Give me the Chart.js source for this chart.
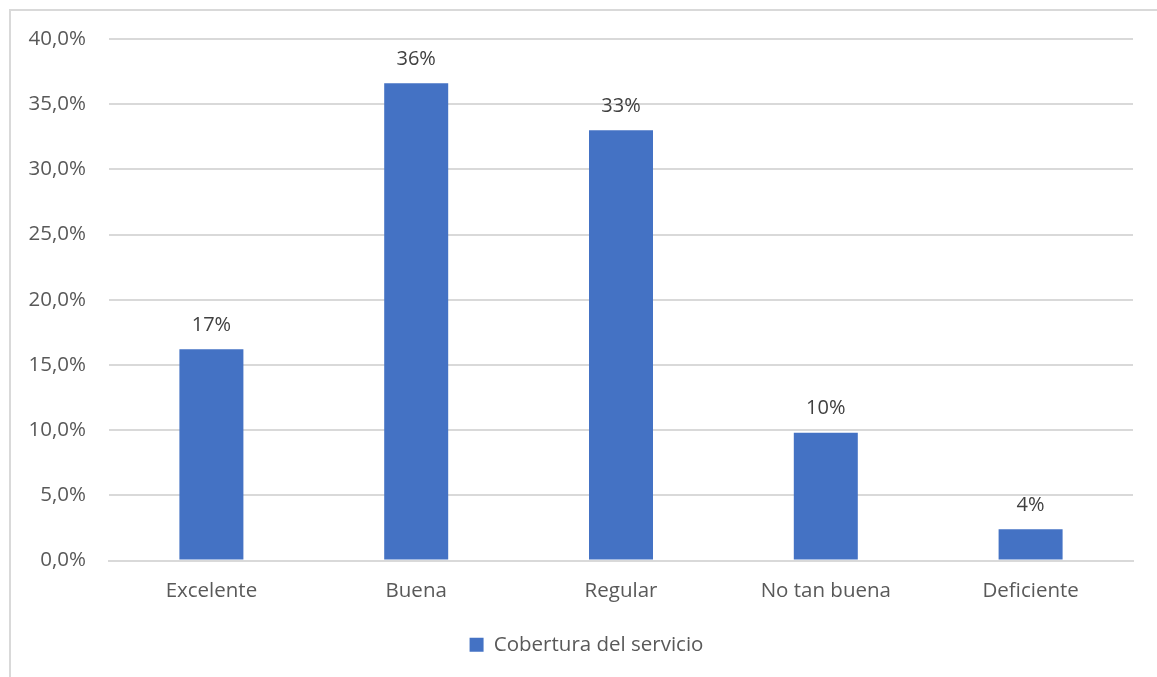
<!DOCTYPE html>
<html>
<head>
<meta charset="utf-8">
<script src="https://cdn.jsdelivr.net/npm/chart.js@4"></script>
<style>
    html, body { margin: 0; padding: 0; background: #fff; overflow: hidden; }
    #frame {
        position: absolute; left: 9px; top: 9px;
        width: 1200px; height: 720px;
        border: 2px solid #d9d9d9; box-sizing: border-box;
    }
    #wrap { position: absolute; left: 0; top: 0; width: 1157px; height: 677px; }
</style>
</head>
<body>
<div id="frame"></div>
<div id="wrap"><canvas id="chart"></canvas></div>
<script>
// categories and values
var categories = ["Excelente", "Buena", "Regular", "No tan buena", "Deficiente"];
var coverage = [16.2, 36.6, 33.0, 9.8, 2.4];
var valueLabels = ["17%", "36%", "33%", "10%", "4%"];
var seriesName = "Cobertura del servicio";

var FONT = "'Open Sans', sans-serif";
var TEXT = "#595959";

// draws the data labels above each bar
var barLabels = {
    id: "barLabels",
    afterDatasetsDraw: function (chart) {
        var ctx = chart.ctx;
        var meta = chart.getDatasetMeta(0);
        ctx.save();
        ctx.font = "20px " + FONT;
        ctx.fillStyle = "#404040";
        ctx.textAlign = "center";
        ctx.textBaseline = "middle";
        meta.data.forEach(function (bar, i) {
            ctx.fillText(valueLabels[i], bar.x, bar.y - 24);
        });
        ctx.restore();
    }
};

// legend is centred on the whole frame, not the canvas, so nudge it right
var legendShift = {
    id: "legendShift",
    afterLayout: function (chart) {
        if (chart.legend) {
            chart.legend.left += 20;
            chart.legend.right += 20;
        }
    }
};

new Chart(document.getElementById("chart"), {
    type: "bar",
    data: {
        labels: categories,
        datasets: [{
            label: seriesName,
            data: coverage,
            backgroundColor: "#4472C4",
            borderWidth: 0,
            barPercentage: 0.625,
            categoryPercentage: 0.5
        }]
    },
    options: {
        responsive: true,
        maintainAspectRatio: false,
        animation: false,
        layout: { padding: { top: 39, right: 24, bottom: 12, left: 0 } },
        plugins: {
            tooltip: { enabled: false },
            legend: {
                position: "bottom",
                labels: {
                    font: { family: FONT, size: 20.5 },
                    color: TEXT,
                    boxWidth: 14,
                    boxHeight: 14,
                    padding: 8
                }
            }
        },
        scales: {
            x: {
                grid: { display: false, drawTicks: false },
                border: { color: "#d9d9d9", width: 2 },
                ticks: { font: { family: FONT, size: 20.5 }, color: TEXT, padding: 18 },
                afterFit: function (scale) { scale.height = 66; }
            },
            y: {
                min: 0, max: 40,
                grid: { color: "#d9d9d9", lineWidth: 2, drawTicks: false },
                border: { display: false },
                ticks: {
                    stepSize: 5,
                    font: { family: FONT, size: 20.5 },
                    color: TEXT,
                    padding: 23,
                    callback: function (v) { return v.toFixed(1).replace(".", ",") + "%"; }
                },
                afterFit: function (scale) { scale.width = 109; }
            }
        }
    },
    plugins: [barLabels, legendShift]
});
</script>
</body>
</html>
